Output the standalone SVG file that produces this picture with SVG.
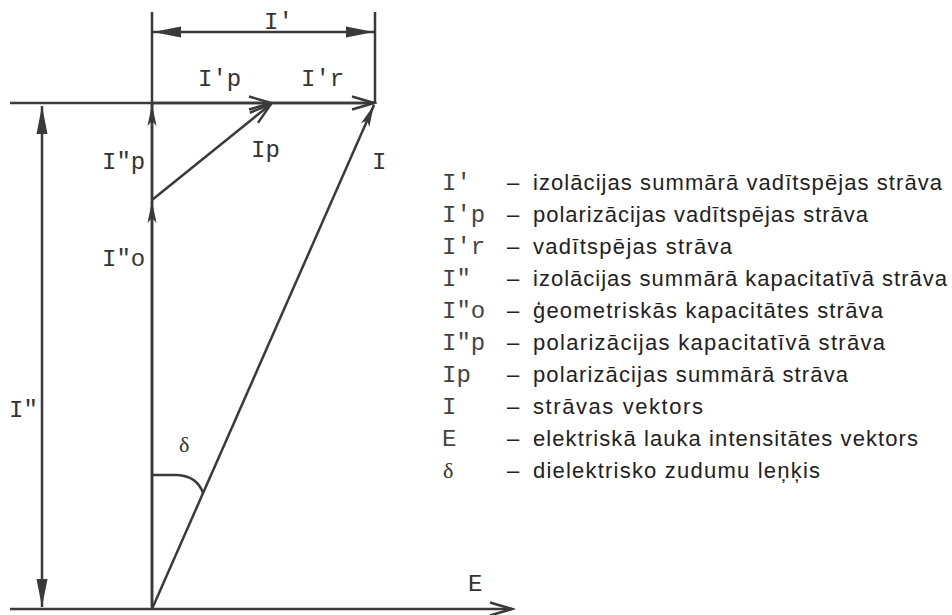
<svg xmlns="http://www.w3.org/2000/svg" width="952" height="615" viewBox="0 0 952 615">
<style>
.ln{stroke:#3a3a3a;stroke-width:2.5;fill:none;stroke-linecap:butt}
.mono{font-family:"Liberation Mono","Courier New",monospace;font-size:24px;fill:#333}
.lm{font-family:"Liberation Mono","Courier New",monospace;font-size:24px;fill:#444}
.ld{font-family:"Liberation Sans",Arial,sans-serif;font-size:22px;fill:#222}
.gr{font-family:"Liberation Serif","Times New Roman",serif;font-size:22px;fill:#333}
</style>
<defs>
<marker id="open" markerUnits="userSpaceOnUse" markerWidth="26" markerHeight="16" refX="23" refY="8" orient="auto-start-reverse" viewBox="0 0 26 16">
<path d="M1,1.5 L23,8 L1,14.5" fill="none" stroke="#3a3a3a" stroke-width="2.5"/>
</marker>
<marker id="fill" markerUnits="userSpaceOnUse" markerWidth="30" markerHeight="14" refX="28" refY="7" orient="auto-start-reverse" viewBox="0 0 30 14">
<path d="M0,1.5 L28,7 L0,12.5 z" fill="#3a3a3a"/>
</marker>
<marker id="thin" markerUnits="userSpaceOnUse" markerWidth="24" markerHeight="12" refX="22" refY="6" orient="auto" viewBox="0 0 24 12">
<path d="M0,1.5 L22,6 L0,10.5 L5,6 z" fill="#3a3a3a"/>
</marker>
</defs>
<rect width="952" height="615" fill="#ffffff"/>
<g id="axes">
<line class="ln" x1="10" y1="103" x2="375" y2="103"/>
<line class="ln" x1="152" y1="12" x2="152" y2="609"/>
<line class="ln" x1="375" y1="12" x2="375" y2="103"/>
<line class="ln" x1="10" y1="609" x2="512" y2="609" marker-end="url(#open)"/>
</g>
<g id="connectors">
<line id="dim-Iprime" class="ln" x1="153" y1="32" x2="374" y2="32" marker-start="url(#fill)" marker-end="url(#fill)"/>
<line id="dim-Idouble" class="ln" x1="42" y1="106" x2="42" y2="607" marker-start="url(#fill)" marker-end="url(#fill)"/>
<line id="vec-Ipp" class="ln" x1="152" y1="103" x2="271" y2="103" marker-end="url(#open)"/>
<line id="vec-Ipr" class="ln" x1="272" y1="103" x2="374" y2="103" marker-end="url(#open)"/>
<line id="vec-Io" class="ln" x1="152" y1="606" x2="152" y2="201" marker-end="url(#thin)"/>
<line id="vec-Idp" class="ln" x1="152" y1="200" x2="152" y2="104" marker-end="url(#thin)"/>
<line id="vec-Ip" class="ln" x1="152" y1="200" x2="271" y2="104" marker-end="url(#open)"/>
<line id="vec-I" class="ln" x1="152" y1="609" x2="374" y2="105" marker-end="url(#thin)"/>
<path id="angle" class="ln" d="M152,475 L177,475 Q197,476 203,493"/>
</g>
<g id="labels">
<text class="mono" x="264" y="29">I'</text>
<text class="mono" x="198" y="86">I'p</text>
<text class="mono" x="301" y="86">I'r</text>
<text class="mono" x="102" y="169">I"p</text>
<text class="mono" x="251" y="157">Ip</text>
<text class="mono" x="372" y="169">I</text>
<text class="mono" x="102" y="266">I"o</text>
<text class="mono" x="9" y="417">I"</text>
<text class="gr" x="179" y="452">δ</text>
<text class="mono" x="468" y="591">E</text>
</g>
<g id="legend">
<text class="lm" x="442" y="190">I'</text><text class="ld" x="507" y="190">–</text><text class="ld" x="533" y="190" textLength="409">izolācijas summārā vadītspējas strāva</text>
<text class="lm" x="442" y="222">I'p</text><text class="ld" x="507" y="222">–</text><text class="ld" x="533" y="222" textLength="335">polarizācijas vadītspējas strāva</text>
<text class="lm" x="442" y="254">I'r</text><text class="ld" x="507" y="254">–</text><text class="ld" x="533" y="254" textLength="199">vadītspējas strāva</text>
<text class="lm" x="442" y="286">I"</text><text class="ld" x="507" y="286">–</text><text class="ld" x="533" y="286" textLength="414">izolācijas summārā kapacitatīvā strāva</text>
<text class="lm" x="442" y="318">I"o</text><text class="ld" x="507" y="318">–</text><text class="ld" x="533" y="318" textLength="350">ģeometriskās kapacitātes strāva</text>
<text class="lm" x="442" y="350">I"p</text><text class="ld" x="507" y="350">–</text><text class="ld" x="533" y="350" textLength="352">polarizācijas  kapacitatīvā strāva</text>
<text class="lm" x="442" y="382">Ip</text><text class="ld" x="507" y="382">–</text><text class="ld" x="533" y="382" textLength="315">polarizācijas summārā strāva</text>
<text class="lm" x="442" y="414">I</text><text class="ld" x="507" y="414">–</text><text class="ld" x="533" y="414" textLength="170">strāvas  vektors</text>
<text class="lm" x="442" y="446">E</text><text class="ld" x="507" y="446">–</text><text class="ld" x="533" y="446" textLength="385">elektriskā lauka intensitātes vektors</text>
<text class="gr" x="443" y="478">δ</text><text class="ld" x="507" y="478">–</text><text class="ld" x="533" y="478" textLength="287">dielektrisko zudumu leņķis</text>
</g>
</svg>
